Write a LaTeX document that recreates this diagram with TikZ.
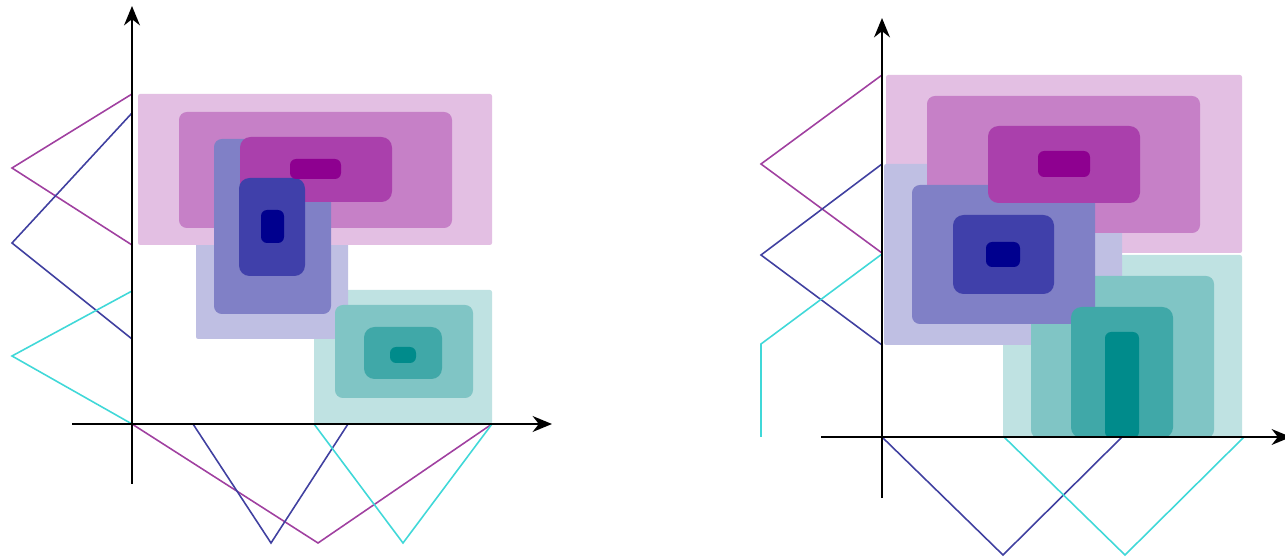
\documentclass[tikz,border=0pt]{standalone}
\usetikzlibrary{arrows.meta}
\definecolor{mag}{HTML}{8E0090}
\definecolor{blu}{HTML}{00008E}
\definecolor{tea}{HTML}{008B8B}
\definecolor{magline}{HTML}{A040A0}
\definecolor{bluline}{HTML}{4040A0}
\definecolor{cyaline}{HTML}{40D8D8}
\tikzset{
  lvA/.style={rounded corners=1.2pt},
  lvB/.style={rounded corners=4.5pt},
  lvC/.style={rounded corners=6pt},
  lvD/.style={rounded corners=3.5pt},
  mA/.style={lvA,fill=mag!25},  mB/.style={lvB,fill=mag!50},  mC/.style={lvC,fill=mag!75},  mD/.style={lvD,fill=mag},
  bA/.style={lvA,fill=blu!25},  bB/.style={lvB,fill=blu!50},  bC/.style={lvC,fill=blu!75},  bD/.style={lvD,fill=blu},
  tA/.style={lvA,fill=tea!25},  tB/.style={lvB,fill=tea!50},  tC/.style={lvC,fill=tea!75},  tD/.style={lvD,fill=tea},
  mfline/.style={line width=0.9pt,line join=miter},
  axisline/.style={line width=1.3pt,-{Stealth[length=11pt,width=9pt,inset=3.5pt]}}
}
\begin{document}
\begin{tikzpicture}[x=0.02cm,y=-0.02cm]
\useasboundingbox (0,0) rectangle (1285,560);
% ---------------- left diagram ----------------
\coordinate (LO) at (132,424);
\coordinate (Lmx1) at (318,543); \coordinate (Lmx2) at (492,424);
\coordinate (Lbx0) at (193,424); \coordinate (Lbx1) at (271,543); \coordinate (Lbx2) at (348,424);
\coordinate (Lcx0) at (314,424); \coordinate (Lcx1) at (403,543); \coordinate (Lcx2) at (492,424);
\coordinate (Lmy0) at (132,94);  \coordinate (Lmy1) at (12,168);  \coordinate (Lmy2) at (132,245);
\coordinate (Lby0) at (132,113); \coordinate (Lby1) at (12,243);  \coordinate (Lby2) at (132,339);
\coordinate (Lcy0) at (132,291); \coordinate (Lcy1) at (12,356);
\draw[mfline,magline] (LO) -- (Lmx1) -- (Lmx2);
\draw[mfline,bluline] (Lbx0) -- (Lbx1) -- (Lbx2);
\draw[mfline,cyaline] (Lcx0) -- (Lcx1) -- (Lcx2);
\draw[mfline,magline] (Lmy0) -- (Lmy1) -- (Lmy2);
\draw[mfline,bluline] (Lby0) -- (Lby1) -- (Lby2);
\draw[mfline,cyaline] (Lcy0) -- (Lcy1) -- (LO);
% level 1
\fill[tA] (314,290) rectangle (492,424);
\fill[bA] (196,114) rectangle (348,339);
\fill[mA] (138,94) rectangle (492,245);
% level 2
\fill[mB] (179,112) rectangle (452,228);
\fill[bB] (214,139) rectangle (331,314);
\fill[tB] (335,305) rectangle (473,398);
% level 3
\fill[mC] (240,137) rectangle (392,202);
\fill[bC] (239,178) rectangle (305,276);
\fill[tC] (364,327) rectangle (442,379);
% level 4
\fill[mD] (290,159) rectangle (341,179);
\fill[bD] (261,210) rectangle (284,243);
\fill[tD] (390,347) rectangle (416,363);
% axes
\coordinate (Lyb) at (132,484); \coordinate (Lyt) at (132,6);
\coordinate (Lxl) at (72,424);  \coordinate (Lxr) at (552,424);
\draw[axisline] (Lyb) -- (Lyt);
\draw[axisline] (Lxl) -- (Lxr);
% ---------------- right diagram ----------------
\coordinate (RO) at (882,437);
\coordinate (Rmy0) at (882,75);  \coordinate (Rmy1) at (761,164); \coordinate (Rmy2) at (882,253);
\coordinate (Rby0) at (882,164); \coordinate (Rby1) at (761,255); \coordinate (Rby2) at (882,345);
\coordinate (Rcy0) at (882,254); \coordinate (Rcy1) at (761,344); \coordinate (Rcy2) at (761,437);
\coordinate (Rbx1) at (1003,555); \coordinate (Rbx2) at (1122,437);
\coordinate (Rcx0) at (1004,437); \coordinate (Rcx1) at (1125,555); \coordinate (Rcx2) at (1244,437);
\draw[mfline,magline] (Rmy0) -- (Rmy1) -- (Rmy2);
\draw[mfline,bluline] (Rby0) -- (Rby1) -- (Rby2);
\draw[mfline,cyaline] (Rcy0) -- (Rcy1) -- (Rcy2);
\draw[mfline,bluline] (RO) -- (Rbx1) -- (Rbx2);
\draw[mfline,cyaline] (Rcx0) -- (Rcx1) -- (Rcx2);
% level 1
\fill[tA] (1003,255) rectangle (1242,438);
\fill[mA] (886,75) rectangle (1242,253);
\fill[bA] (884,164) rectangle (1122,345);
% level 2
\fill[tB] (1031,276) rectangle (1214,438);
\fill[mB] (927,96) rectangle (1200,233);
\fill[bB] (912,185) rectangle (1095,324);
% level 3
\fill[tC] (1071,307) rectangle (1173,438);
\fill[mC] (988,126) rectangle (1140,203);
\fill[bC] (953,215) rectangle (1054,294);
% level 4
\fill[tD] (1105,332) rectangle (1139,438);
\fill[mD] (1038,151) rectangle (1090,177);
\fill[bD] (986,242) rectangle (1020,267);
% axes
\coordinate (Ryb) at (882,498); \coordinate (Ryt) at (882,18);
\coordinate (Rxl) at (821,437); \coordinate (Rxr) at (1291,437);
\draw[axisline] (Ryb) -- (Ryt);
\draw[axisline] (Rxl) -- (Rxr);
\end{tikzpicture}
\end{document}
